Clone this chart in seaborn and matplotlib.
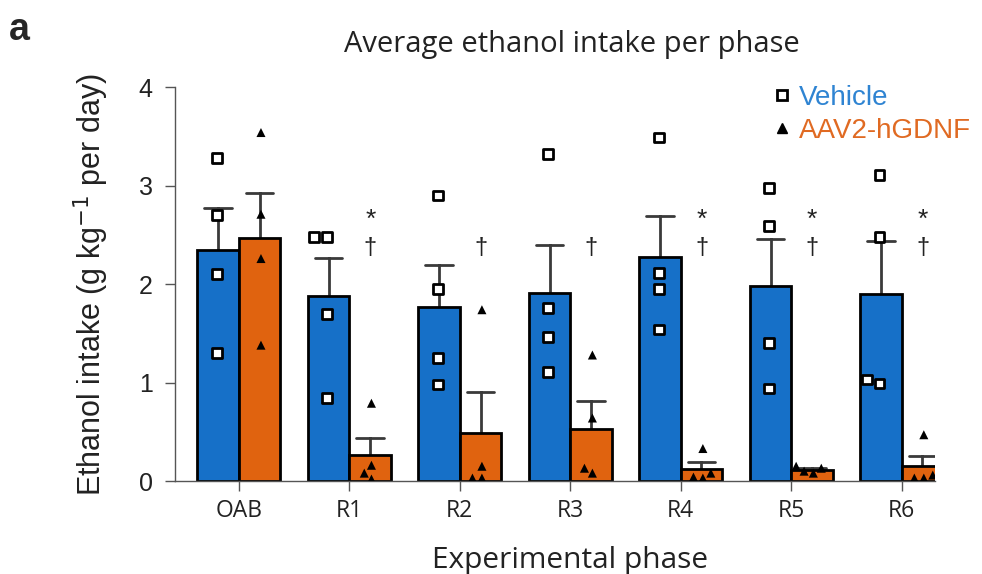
import pandas as pd
import seaborn as sns
import matplotlib.pyplot as plt
from matplotlib.lines import Line2D

# Dane (g/kg/dzień), 4 zwierzęta na grupę
phases = ["OAB", "R1", "R2", "R3", "R4", "R5", "R6"]
groups = ["Vehicle", "AAV2-hGDNF"]

vehicle_values = [
    [3.28, 2.70, 2.10, 1.30],
    [2.48, 2.48, 1.70, 0.84],
    [2.90, 1.95, 1.25, 0.98],
    [3.32, 1.76, 1.46, 1.11],
    [3.49, 2.11, 1.95, 1.54],
    [2.98, 2.59, 1.40, 0.94],
    [3.11, 2.48, 1.03, 0.99],
]
gdnf_values = [
    [3.54, 2.71, 2.26, 1.38],
    [0.79, 0.16, 0.08, 0.02],
    [1.74, 0.15, 0.03, 0.03],
    [1.28, 0.64, 0.13, 0.08],
    [0.33, 0.08, 0.04, 0.03],
    [0.15, 0.13, 0.10, 0.08],
    [0.47, 0.06, 0.03, 0.03],
]
star_phases = ["R1", "R4", "R5", "R6"]
dagger_phases = ["R1", "R2", "R3", "R4", "R5", "R6"]

bar_colors = {"Vehicle": "#1670C8", "AAV2-hGDNF": "#E0630F"}
text_colors = {"Vehicle": "#2F84D2", "AAV2-hGDNF": "#E06A22"}


def main():
    rows = []
    for group, values in zip(groups, [vehicle_values, gdnf_values]):
        for phase, vals in zip(phases, values):
            for v in vals:
                rows.append({"phase": phase, "group": group, "intake": v})
    df = pd.DataFrame(rows)

    sns.set_style("ticks")
    plt.rcParams["font.family"] = ["Liberation Sans", "DejaVu Sans"]
    wide = ["Open Sans", "DejaVu Sans"]

    fig = plt.figure(figsize=(9.82, 5.74), dpi=100)
    ax = fig.add_axes([0.178, 0.162, 0.774, 0.686])

    # słupki: średnia + SEM (dolna połowa wąsów schowana za słupkiem)
    sns.barplot(data=df, x="phase", y="intake", hue="group", order=phases,
                hue_order=groups, palette=bar_colors, saturation=1,
                errorbar="se", capsize=0.5, width=0.75, gap=0,
                edgecolor="black", linewidth=2, legend=False, ax=ax,
                err_kws={"color": "#3a3a3a", "linewidth": 2, "zorder": 0.5})

    # pojedyncze zwierzęta
    sns.swarmplot(data=df[df["group"] == "Vehicle"], x="phase", y="intake",
                  hue="group", order=phases, hue_order=groups, dodge=True,
                  marker="s", palette={"Vehicle": "white", "AAV2-hGDNF": "white"},
                  edgecolor="black", linewidth=2, size=7, legend=False,
                  zorder=3, ax=ax)
    sns.swarmplot(data=df[df["group"] == "AAV2-hGDNF"], x="phase", y="intake",
                  hue="group", order=phases, hue_order=groups, dodge=True,
                  marker="^", palette={"Vehicle": "black", "AAV2-hGDNF": "black"},
                  linewidth=0, size=6.5, legend=False, zorder=3, ax=ax)

    for p in star_phases:
        ax.text(phases.index(p) + 0.19, 2.65, "*", ha="center", va="center",
                fontsize=19, color="#222222")
    for p in dagger_phases:
        ax.text(phases.index(p) + 0.19, 2.37, "\u2020", ha="center",
                va="center", fontsize=17, color="#222222")

    ax.set_ylim(0, 4)
    ax.set_yticks([0, 1, 2, 3, 4])
    ax.set_xlim(-0.58, 6.3)
    sns.despine(ax=ax)
    for s in ["left", "bottom"]:
        ax.spines[s].set_color("#555555")
        ax.spines[s].set_linewidth(1.0)
    ax.tick_params(axis="both", length=7, width=1, color="#555555",
                   labelcolor="#222222")
    ax.tick_params(axis="y", labelsize=18, pad=9)
    ax.tick_params(axis="x", labelsize=16.5, pad=6)
    for lbl in ax.get_xticklabels():
        lbl.set_family(wide)

    ax.set_xlabel("Experimental phase", fontsize=21.5, color="#222222",
                  family=wide)
    ax.xaxis.set_label_coords(0.52, -0.165)
    ax.set_ylabel("Ethanol intake (g kg$^{-1}$ per day)", fontsize=22,
                  color="#222222", labelpad=20)

    fig.text(0.582, 0.923, "Average ethanol intake per phase", ha="center",
             va="center", fontsize=21, color="#222222", family=wide)
    fig.text(0.009, 0.947, "a", ha="left", va="center", fontsize=27,
             fontweight="heavy")

    handles = [
        Line2D([], [], marker="s", linestyle="none", markerfacecolor="white",
               markeredgecolor="black", markeredgewidth=2, markersize=7),
        Line2D([], [], marker="^", linestyle="none", color="black",
               markersize=6.5),
    ]
    leg = ax.legend(handles, groups, loc="upper left",
                    bbox_to_anchor=(0.768, 1.035), frameon=False,
                    fontsize=20, handletextpad=0.15, labelspacing=0.25,
                    handlelength=0.9, borderaxespad=0)
    for t, g in zip(leg.get_texts(), groups):
        t.set_color(text_colors[g])

    fig.savefig("out.png", dpi=100)


if __name__ == "__main__":
    main()
